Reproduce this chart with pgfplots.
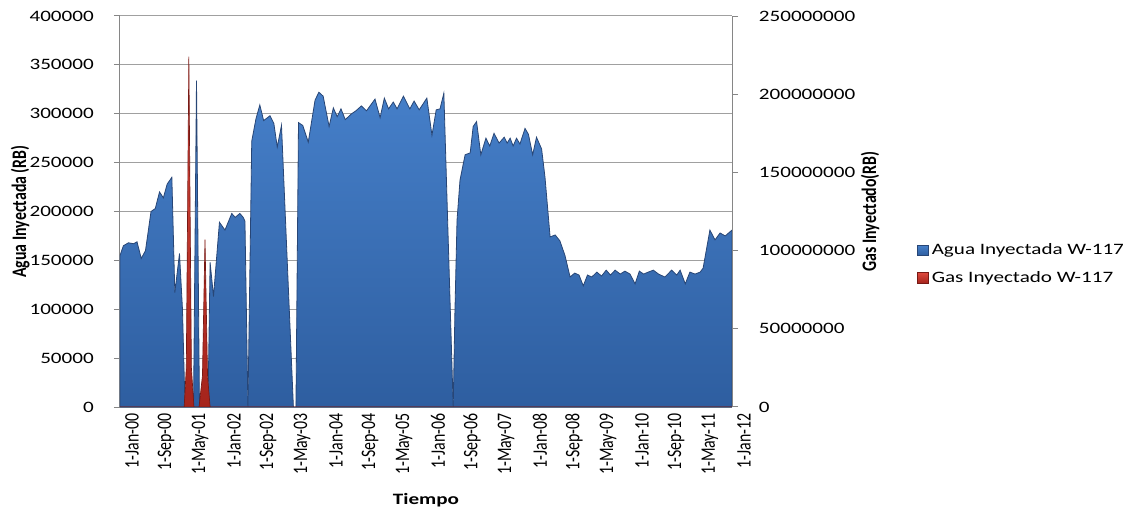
\documentclass[border=0pt]{standalone}
\usepackage{fontspec}
\setmainfont{Carlito}
\newfontfamily\hfont[FakeStretch=1.33]{Carlito}
\usepackage{graphicx}
\usepackage{pgfplots}
\usepackage{pgfplotstable}
\pgfplotsset{compat=1.18}
\definecolor{gridc}{RGB}{160,160,160}
\definecolor{axc}{RGB}{134,134,134}
\definecolor{bluetop}{RGB}{70,128,202}
\definecolor{bluebot}{RGB}{46,94,160}
\definecolor{blueedge}{RGB}{40,70,118}
\definecolor{redtop}{RGB}{220,72,60}
\definecolor{redbot}{RGB}{165,36,28}
\definecolor{rededge}{RGB}{120,25,20}
\newcommand{\xl}[1]{\scalebox{1}[1.3]{#1}}
\newcommand{\tfont}{\hfont\fontsize{11.9}{13}\selectfont}

\pgfplotstableread{
m v
0 155000
0.8 165000
2 168000
3.2 167000
4 169000
5 152000
6 160000
7.3 200000
8.3 203000
9.3 220000
10.2 214000
11.1 228000
12.2 235000
12.9 117000
14 157000
14.7 100000
15.3 0
17.3 0
18 334000
18.7 0
20.7 0
21.2 148000
22 113000
23.4 189000
24.7 181000
26.3 198000
27.1 194000
28.2 198000
29 194000
29.4 190000
30.1 0
31 272000
32 295000
32.9 309000
33.8 293000
35.3 298000
36.2 290000
37 266000
38 288000
40.8 0
41.4 0
42 291000
43 288000
44.3 271000
45.9 314000
46.8 322000
47.8 318000
49.2 287000
50.2 306000
51.1 297000
52 305000
53 294000
54.5 300000
55.5 303000
56.8 308000
58 303000
60 315000
61.2 296000
62.2 316000
63.2 305000
64.3 312000
65.2 305000
66.7 318000
68.2 305000
69.2 313000
70.4 304000
72.2 316000
73.4 278000
74.4 304000
75.3 305000
76.2 321000
78.4 0
78.8 96000
79.3 191000
80 232000
81.2 258000
82.4 260000
83.1 287000
83.9 292000
84.9 258000
86.1 275000
87 267000
88 280000
89.2 270000
90.4 276000
91.1 270000
91.8 275000
92.5 267000
93.3 275000
94.1 269000
95.3 285000
96.1 279000
97.1 258000
98 276000
99.2 264000
100 235000
101.2 174000
102.4 176000
103.5 170000
104.7 155000
105.9 133000
107 137000
108 135000
109 124000
110 135000
111 133000
112.2 138000
113.3 134000
114.4 140000
115.4 135000
116.5 140000
117.7 136000
118.8 139000
120 136000
121.2 126000
122.2 139000
123.2 136000
124.3 138000
125.5 140000
126.7 136000
128.2 133000
129.8 140000
131 135000
131.8 140000
133 126000
134.1 138000
135.3 136000
136.5 138000
137.2 142000
138.8 181000
140 171000
141.2 178000
142.4 175000
144 181000
}\water

\pgfplotstableread{
m v
0 0
15.1 0
15.6 25000000
16.2 224000000
16.8 25000000
17.4 0
18.6 0
19.4 20000000
20 107000000
20.6 20000000
21.2 0
144 0
}\gas

\begin{document}
\begin{tikzpicture}
\useasboundingbox (0,0) rectangle (849.75pt,383.25pt);
\begin{axis}[
  at={(90pt,78pt)}, anchor=south west,
  scale only axis, width=459pt, height=293.25pt,
  xmin=0, xmax=144, ymin=0, ymax=400000,
  scaled ticks=false,
  axis y line*=left, axis x line*=bottom,
  axis line style={-, draw=axc, line width=0.75pt},
  /pgf/number format/assume math mode=true,
  xtick={0,8,16,24,32,40,48,56,64,72,80,88,96,104,112,120,128,136,144},
  xticklabels={\xl{1-Jan-00},\xl{1-Sep-00},\xl{1-May-01},\xl{1-Jan-02},\xl{1-Sep-02},\xl{1-May-03},\xl{1-Jan-04},\xl{1-Sep-04},\xl{1-May-05},\xl{1-Jan-06},\xl{1-Sep-06},\xl{1-May-07},\xl{1-Jan-08},\xl{1-Sep-08},\xl{1-May-09},\xl{1-Jan-10},\xl{1-Sep-10},\xl{1-May-11},\xl{1-Jan-12}},
  x tick label style={rotate=90, anchor=east, inner sep=0pt, yshift=-9pt, font=\fontsize{11.9}{13}\selectfont},
  ytick={0,50000,100000,150000,200000,250000,300000,350000,400000},
  yticklabels={0,50000,100000,150000,200000,250000,300000,350000,400000},
  y tick label style={font=\tfont, inner sep=0pt, anchor=east, xshift=-15pt},
  ymajorgrids, grid style={draw=gridc, line width=0.75pt},
  tick align=outside, major tick length=4.5pt,
  ytick style={draw=axc, line width=0.75pt},
  xtick style={draw=none},
  ylabel={\xl{\bfseries Agua Inyectada (RB)}},
  ylabel style={at={(axis description cs:-0.163,0.5)}, anchor=center, rotate=0, font=\fontsize{11.9}{13}\selectfont},
  xlabel={\bfseries Tiempo},
  xlabel style={at={(axis description cs:0.5,-0.238)}, anchor=center, font=\tfont},
]
\addplot[draw=blueedge, line width=0.6pt, top color=bluetop, bottom color=bluebot] table[x=m, y=v]{\water} \closedcycle;
\end{axis}
\begin{axis}[
  at={(90pt,78pt)}, anchor=south west,
  scale only axis, width=459pt, height=293.25pt,
  xmin=0, xmax=144, ymin=0, ymax=250000000,
  scaled ticks=false,
  axis y line*=right, axis x line=none,
  axis line style={-, draw=axc, line width=0.75pt},
  /pgf/number format/assume math mode=true,
  ytick={0,50000000,100000000,150000000,200000000,250000000},
  yticklabels={0,50000000,100000000,150000000,200000000,250000000},
  y tick label style={font=\tfont, inner sep=0pt, anchor=west, xshift=15.5pt},
  tick align=outside, major tick length=4.5pt,
  ytick style={draw=axc, line width=0.75pt},
  ylabel={\xl{\bfseries Gas Inyectado(RB)}},
  ylabel style={at={(axis description cs:1.2255,0.5)}, anchor=center, rotate=0, font=\fontsize{11.9}{13}\selectfont},
  legend style={at={(axis description cs:1.302,0.365)}, anchor=west, draw=none, fill=none, font=\tfont, row sep=7pt, inner sep=0pt},
  legend cell align=left,
  legend image code/.code={\draw[#1, line width=0.5pt] (0pt,-3.8pt) rectangle (8.5pt,4pt);},
]
\addlegendimage{draw=blueedge, top color=bluetop, bottom color=bluebot}
\addlegendentry{Agua Inyectada W-117}
\addplot[draw=rededge, line width=0.5pt, top color=redtop, bottom color=redbot] table[x=m, y=v]{\gas} \closedcycle;
\addlegendentry{Gas Inyectado W-117}
\end{axis}
\end{tikzpicture}
\end{document}
